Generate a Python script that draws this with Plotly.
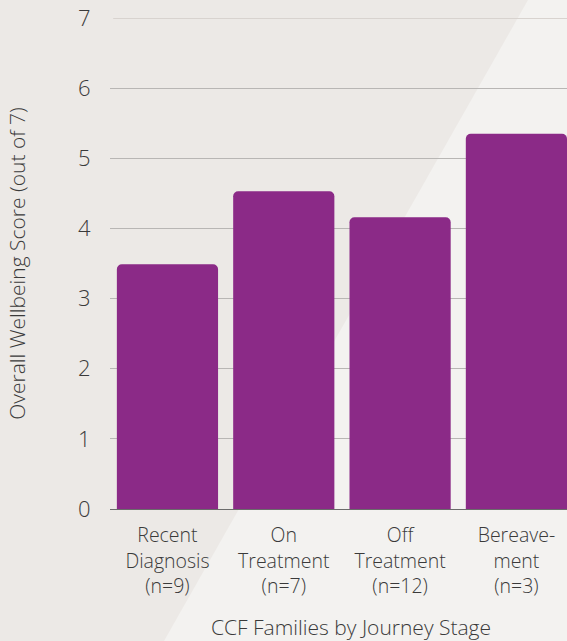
import plotly.graph_objects as go

categories = ["Recent<br>Diagnosis<br>(n=9)", "On<br>Treatment<br>(n=7)",
              "Off<br>Treatment<br>(n=12)", "Bereave-<br>ment<br>(n=3)"]
scores = [3.49, 4.53, 4.16, 5.35]
y_ticks = [0, 1, 2, 3, 4, 5, 6, 7]
x_title = "CCF Families by Journey Stage"
y_title = "Overall Wellbeing Score (out of 7)"

W, H = 567, 641
L, R, T, B = 110, 0, 18, 132
pw, ph = W - L - R, H - T - B

def px(x):
    return (x - L) / pw

def py(y):
    return (H - B - y) / ph

FONT = "Open Sans"
TXT = "#3a3a3a"
xs = list(range(len(categories)))

fig = go.Figure()
fig.add_trace(go.Bar(x=xs, y=scores, marker=dict(color="#8b2a87", line=dict(width=0)),
                     width=0.87, hoverinfo="skip"))

fig.update_layout(
    width=W, height=H,
    margin=dict(l=L, r=R, t=T, b=B, pad=0),
    paper_bgcolor="#ece9e6",
    plot_bgcolor="rgba(0,0,0,0)",
    barcornerradius=5,
    showlegend=False,
    font=dict(family=FONT, color=TXT, weight=300),
    shapes=[
        dict(type="path", xref="paper", yref="paper",
             path=f"M {px(528)} {py(0)} L {px(600)} {py(0)} L {px(600)} {py(H)} L {px(164)} {py(H)} Z",
             fillcolor="#f3f2f0", line=dict(width=0), layer="below"),
        dict(type="line", xref="paper", yref="y", x0=0.007, x1=1, y0=y_ticks[-1], y1=y_ticks[-1],
             line=dict(color="#d8d3cf", width=2), layer="below"),
    ],
    annotations=[
        dict(text=x_title, xref="paper", yref="paper", x=px(351), y=py(627),
             xanchor="center", yanchor="middle", showarrow=False,
             font=dict(size=21, family=FONT, color=TXT, weight=300)),
    ],
)
fig.update_xaxes(
    tickmode="array", tickvals=xs, ticktext=categories,
    range=[-0.494, 3.435], showgrid=False, zeroline=False,
    showline=True, linecolor="#6b6b6b", linewidth=1,
    ticks="outside", ticklen=9, tickcolor="rgba(0,0,0,0)",
    tickfont=dict(size=19.5, family=FONT, color=TXT, weight=300),
)
fig.update_yaxes(
    range=[0, 7], tickmode="array", tickvals=y_ticks,
    showgrid=True, gridcolor="#b8b6b4", gridwidth=1, zeroline=False,
    ticks="outside", ticklen=14, tickcolor="rgba(0,0,0,0)",
    tickfont=dict(size=22, family=FONT, color=TXT, weight=300),
    title=dict(text=y_title, standoff=46,
               font=dict(size=21, family=FONT, color=TXT, weight=300)),
)

fig.write_html("out.html")
